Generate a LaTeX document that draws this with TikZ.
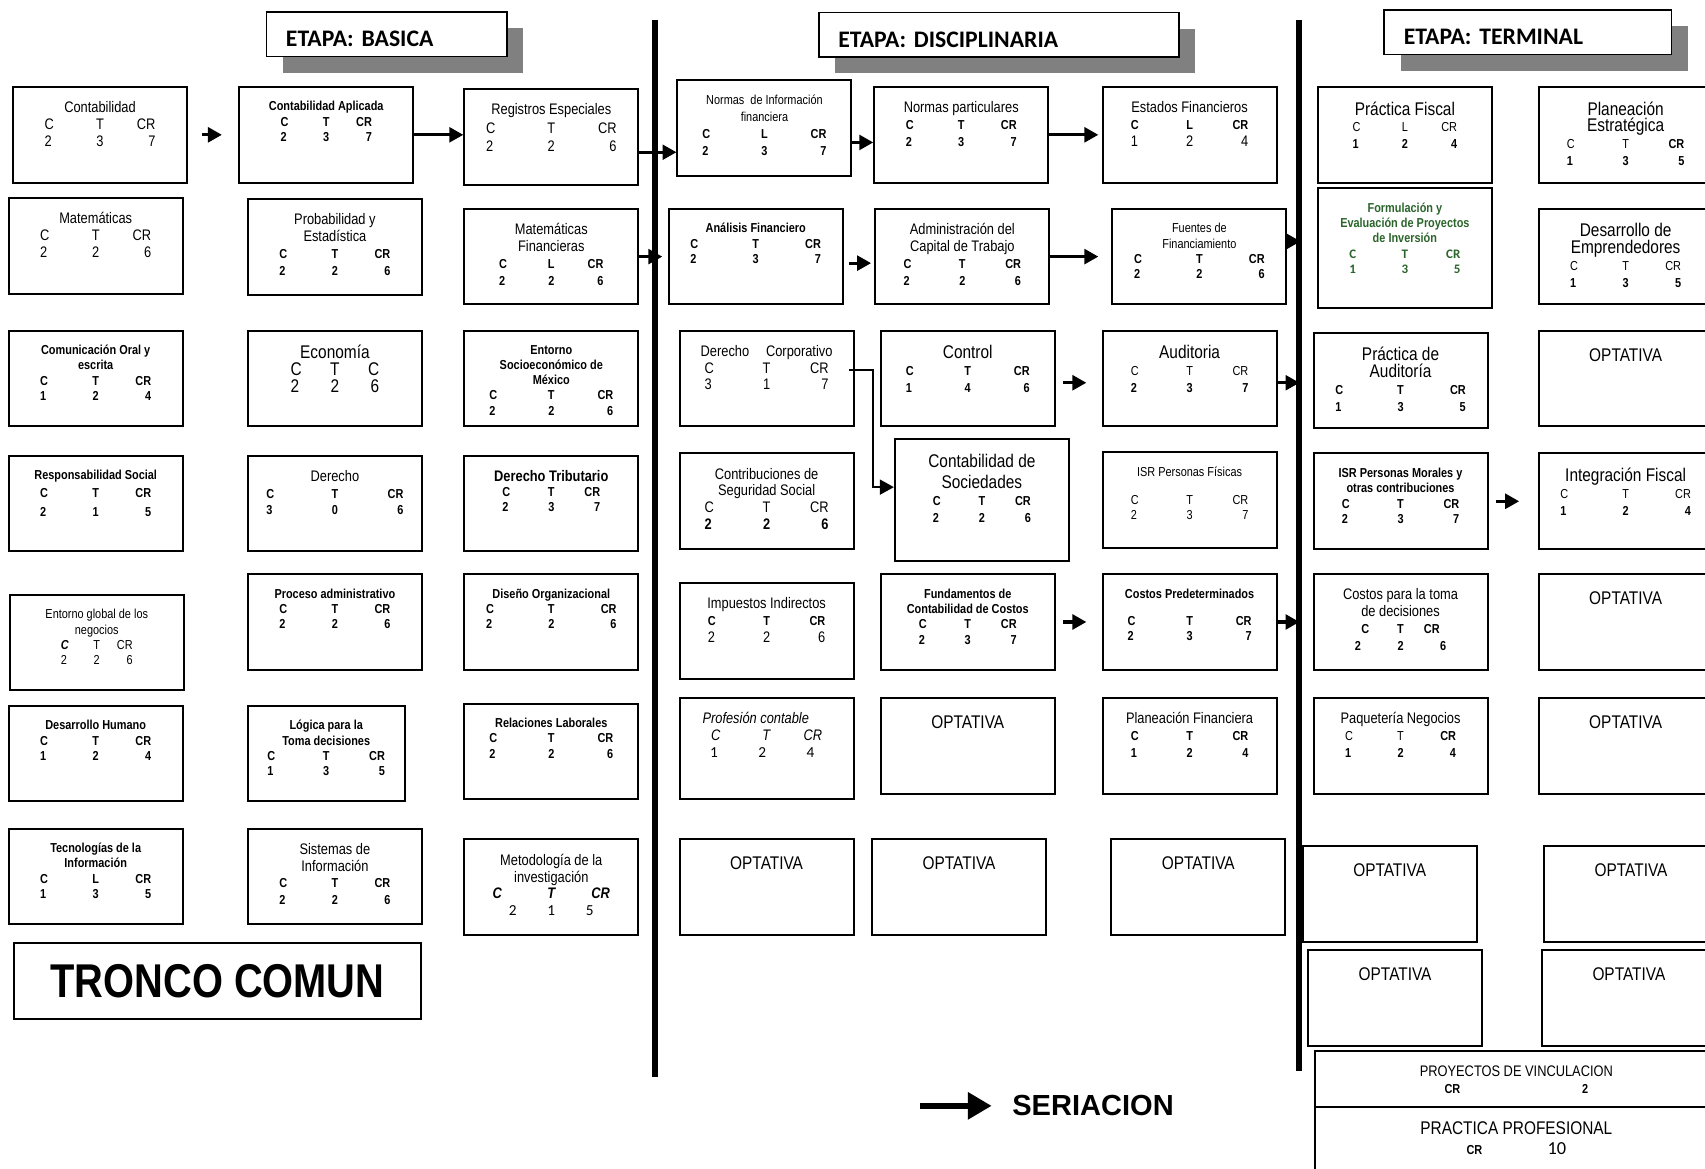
\documentclass[tikz,border=0pt]{standalone}
\usepackage{fontspec}
\setmainfont{Liberation Sans}
\newfontfamily\narrowsf[FakeStretch=0.84]{Liberation Sans}
\newfontfamily\calibri{Carlito}
\usetikzlibrary{arrows.meta, positioning, calc, shadows}
\definecolor{shadowgray}{HTML}{808080}
\definecolor{formgreen}{HTML}{2B652B}
\frenchspacing
\newcommand\szS{\fontsize{8.5}{10}\selectfont}
\newcommand\szM{\fontsize{10}{11}\selectfont}
\newcommand\szL{\fontsize{12}{13.5}\selectfont}
% one row of a course box: C / T / CR
\newcommand\crow[4][0.85cm]{\makebox[#1][l]{#2}\makebox[#1][c]{#3}\makebox[#1][r]{#4}}

\begin{document}
\begin{tikzpicture}[x=0.025cm, y=-0.025cm,
  box/.style={draw, line width=1.3pt, minimum width=4cm, minimum height=2.2cm, inner sep=0pt},
  lbl/.style={anchor=north, yshift=-9pt, align=center, inner sep=1pt, font=\narrowsf\szM},
  course/.style={box, label={[lbl]north:#1}},
  scourse/.style={box, label={[lbl, font=\narrowsf\szS]north:#1}},
  bcourse/.style={box, label={[lbl, font=\narrowsf\bfseries\szS]north:#1}},
  gcourse/.style={box, label={[lbl, font=\narrowsf\bfseries\szS, text=formgreen]north:#1}},
  optbox/.style={box, label={[lbl, yshift=-2pt, font=\narrowsf\szL]north:OPTATIVA}},
  stage/.style={draw, line width=1pt, fill=white, minimum height=1.025cm, inner xsep=0.45cm,
                text height=16pt, text depth=0pt,
                align=left, font=\calibri\bfseries\fontsize{15.5}{17}\selectfont,
                drop shadow={shadow xshift=0.375cm, shadow yshift=-0.375cm, fill=shadowgray, opacity=1}},
  arr/.style={-{Triangle[length=0.32cm, width=0.34cm]}, line width=2pt},
  elbow/.style={-{Triangle[length=0.32cm, width=0.34cm]}, line width=1.3pt},
  bigarr/.style={-{Triangle[length=0.55cm, width=0.6cm]}, line width=3.9pt},
  bar/.style={line width=3.9pt},
]
\useasboundingbox (0,0) rectangle (1568,1075);
\fill[white] (0,0) rectangle (1568,1075);
\clip (0,0) rectangle (1568,1075);

% === stage headers ===
\node[stage, text width=4.625cm] (basica) at (355.5,31.5) {ETAPA: BASICA};
\node[stage, text width=7.375cm] (discip) at (918.5,32) {ETAPA: DISCIPLINARIA};
\node[stage, text width=5.7cm] (termin) at (1405,29.5) {ETAPA: TERMINAL};

% === stage dividers ===
\draw[bar] (602,18) -- (602,990);
\draw[bar] (1195,18) -- (1195,985);

% === tronco comun, column 1 ===
\node[course={Contabilidad\\\crow{C}{T}{CR}\\\crow{2}{3}{7}}] (conta) at (92,124) {};
\node[course={Matemáticas\\\crow{C}{T}{CR}\\\crow{2}{2}{6}}] (mate) at (88,226) {};
\node[bcourse={Comunicación Oral y\\escrita\\\crow{C}{T}{CR}\\\crow{1}{2}{4}}] (comu) at (88,348) {};
\node[bcourse={Responsabilidad Social\\[2pt]\crow{C}{T}{CR}\\[2pt]\crow{2}{1}{5}}] (resp) at (88,463) {};
\node[scourse={Entorno global de los\\negocios\\\crow[0.55cm]{\textbf{\textit{C}}}{T}{CR}\\\crow[0.55cm]{2}{2}{6}}] (entg) at (89,591) {};
\node[bcourse={Desarrollo Humano\\\crow{C}{T}{CR}\\\crow{1}{2}{4}}] (desh) at (88,693) {};
\node[bcourse={Tecnologías de la\\Información\\\crow{C}{L}{CR}\\\crow{1}{3}{5}}] (tecn) at (88,806) {};
\node[box, minimum width=9.375cm, minimum height=1.75cm,
      font=\narrowsf\bfseries\fontsize{31}{34}\selectfont] (tronco) at (200,902) {TRONCO COMUN};

% === column 2 ===
\node[bcourse={Contabilidad Aplicada\\\crow[0.7cm]{C}{T}{CR}\\\crow[0.7cm]{2}{3}{7}}] (conap) at (300,124) {};
\node[course={Probabilidad y\\Estadística\\{\bfseries\szS\crow{C}{T}{CR}}\\{\bfseries\szS\crow{2}{2}{6}}}] (prob) at (308,227) {};
\node[course={{\szL Economía}\\{\szL\crow[0.68cm]{C}{T}{C}}\\{\szL\crow[0.68cm]{2}{2}{6}}}] (econ) at (308,348) {};
\node[course={Derecho\\{\bfseries\szS\crow[1.05cm]{C}{T}{CR}}\\{\bfseries\szS\crow[1.05cm]{3}{0}{6}}}] (dere) at (308,463) {};
\node[bcourse={Proceso administrativo\\\crow{C}{T}{CR}\\\crow{2}{2}{6}}] (proc) at (308,572) {};
\node[bcourse={Lógica para la\\Toma decisiones\\\crow[0.9cm]{C}{T}{CR}\\\crow[0.9cm]{1}{3}{5}}, minimum width=3.6cm] (logi) at (300,693) {};
\node[course={Sistemas de\\Información\\{\bfseries\szS\crow{C}{T}{CR}}\\{\bfseries\szS\crow{2}{2}{6}}}] (sist) at (308,806) {};

% === column 3 ===
\node[course={Registros Especiales\\[1pt]\crow[1cm]{C}{T}{CR}\\[1pt]\crow[1cm]{2}{2}{6}}] (regi) at (507,126) {};
\node[course={Matemáticas\\Financieras\\{\bfseries\szS\crow[0.8cm]{C}{L}{CR}}\\{\bfseries\szS\crow[0.8cm]{2}{2}{6}}}] (matf) at (507,236) {};
\node[bcourse={Entorno\\Socioeconómico de\\México\\\crow[0.95cm]{C}{T}{CR}\\\crow[0.95cm]{2}{2}{6}}] (ents) at (507,348) {};
\node[bcourse={{\szM Derecho Tributario}\\\crow[0.75cm]{C}{T}{CR}\\\crow[0.75cm]{2}{3}{7}}] (detr) at (507,463) {};
\node[bcourse={Diseño Organizacional\\\crow[1cm]{C}{T}{CR}\\\crow[1cm]{2}{2}{6}}] (diso) at (507,572) {};
\node[bcourse={Relaciones Laborales\\\crow[0.95cm]{C}{T}{CR}\\\crow[0.95cm]{2}{2}{6}}] (rela) at (507,691) {};
\node[course={Metodología de la\\investigación\\{\bfseries\itshape\crow[0.9cm]{C}{T}{CR}}\\{\calibri\crow[0.65cm]{2}{1}{5}}}] (meto) at (507,816) {};

% === disciplinaria, column 4 ===
\node[course={{\szS Normas\ \ de Información}\\{\szS financiera}\\{\bfseries\szS\crow[0.95cm]{C}{L}{CR}}\\{\bfseries\szS\crow[0.95cm]{2}{3}{7}}}] (nif) at (703,118) {};
\node[bcourse={Análisis Financiero\\\crow[1cm]{C}{T}{CR}\\\crow[1cm]{2}{3}{7}}] (anfi) at (695,236) {};
\node[course={Derecho\hspace{1.1em}Corporativo\\\crow[0.95cm]{C}{T}{CR}\\\crow[0.95cm]{3}{1}{7}}] (dcor) at (705,348) {};
\node[course={Contribuciones de\\Seguridad Social\\\crow[0.95cm]{C}{T}{CR}\\{\bfseries\crow[0.95cm]{2}{2}{6}}}] (cssl) at (705,461) {};
\node[course={Impuestos Indirectos\\{\bfseries\szS\crow[0.9cm]{C}{T}{CR}}\\\crow[0.9cm]{2}{2}{6}}] (impi) at (705,580) {};
\node[course={\textit{Profesión contable}\hspace*{0.5cm}\\\crow[0.85cm]{\textit{C}}{\textit{T}}{\textit{CR}}\hspace*{0.2cm}\\{\calibri\crow[0.8cm]{1}{2}{4}}\hspace*{0.2cm}}, minimum height=2.325cm] (prof) at (705,688) {};
\node[optbox] (opt4a) at (705,816) {};

% === column 5 ===
\node[course={Normas particulares\\{\bfseries\szS\crow[0.85cm]{C}{T}{CR}}\\{\bfseries\szS\crow[0.85cm]{2}{3}{7}}}] (npar) at (884,124) {};
\node[course={Administración del\\Capital de Trabajo\\{\bfseries\szS\crow[0.9cm]{C}{T}{CR}}\\{\bfseries\szS\crow[0.9cm]{2}{2}{6}}}] (adct) at (885,236) {};
\node[course={{\szL Control}\\{\bfseries\szS\crow[0.95cm]{C}{T}{CR}}\\{\bfseries\szS\crow[0.95cm]{1}{4}{6}}}] (ctrl) at (890,348) {};
\node[course={{\szL Contabilidad de}\\[3pt]{\szL Sociedades}\\{\bfseries\szS\crow[0.75cm]{C}{T}{CR}}\\{\bfseries\szS\crow[0.75cm]{2}{2}{6}}}, minimum height=2.8cm] (csoc) at (903,460) {};
\node[bcourse={Fundamentos de\\Contabilidad de Costos\\\crow[0.75cm]{C}{T}{CR}\\\crow[0.75cm]{2}{3}{7}}] (fcc) at (890,572) {};
\node[optbox] (opt5a) at (890,686) {};
\node[optbox] (opt5b) at (882,816) {};

% === column 6 ===
\node[course={Estados Financieros\\{\bfseries\szS\crow[0.9cm]{C}{L}{CR}}\\\crow[0.9cm]{1}{2}{4}}] (esfi) at (1094,124) {};
\node[scourse={Fuentes de\\Financiamiento\\{\bfseries\crow[1cm]{C}{T}{CR}}\\{\bfseries\crow[1cm]{2}{2}{6}}}] (fuen) at (1103,236) {};
\node[course={{\szL Auditoria}\\{\szS\crow[0.9cm]{C}{T}{CR}}\\{\bfseries\szS\crow[0.9cm]{2}{3}{7}}}] (audi) at (1094,348) {};
\node[scourse={ISR Personas Físicas\\[8pt]\crow[0.9cm]{C}{T}{CR}\\\crow[0.9cm]{2}{3}{7}}] (isrf) at (1094,460) {};
\node[bcourse={Costos Predeterminados\\[8pt]\crow[0.95cm]{C}{T}{CR}\\\crow[0.95cm]{2}{3}{7}}] (cpre) at (1094,572) {};
\node[course={Planeación Financiera\\{\bfseries\szS\crow[0.9cm]{C}{T}{CR}}\\{\bfseries\szS\crow[0.9cm]{1}{2}{4}}}] (plfi) at (1094,686) {};
\node[optbox] (opt6a) at (1102,816) {};

% === terminal, column 7 ===
\node[course={{\szL Práctica Fiscal}\\{\szS\crow[0.8cm]{C}{L}{CR}}\\{\bfseries\szS\crow[0.8cm]{1}{2}{4}}}] (prfi) at (1292,124) {};
\node[gcourse={Formulación y\\Evaluación de Proyectos\\de Inversión\\{\calibri\crow[0.85cm]{C}{T}{CR}}\\{\calibri\crow[0.85cm]{1}{3}{5}}}, minimum height=2.75cm] (form) at (1292,228) {};
\node[course={{\szL Práctica de}\\{\szL Auditoría}\\{\bfseries\szS\crow[1cm]{C}{T}{CR}}\\{\bfseries\szS\crow[1cm]{1}{3}{5}}}] (prau) at (1288,350) {};
\node[bcourse={ISR Personas Morales y\\otras contribuciones\\\crow[0.9cm]{C}{T}{CR}\\\crow[0.9cm]{2}{3}{7}}] (isrm) at (1288,461) {};
\node[course={Costos para la toma\\de decisiones\\{\bfseries\szS\crow[0.6cm]{C}{T}{CR}}\\{\bfseries\szS\crow[0.7cm]{2}{2}{6}}}] (ctdm) at (1288,572) {};
\node[course={Paquetería Negocios\\{\szS\crow[0.85cm]{C}{T}{\textbf{CR}}}\\{\bfseries\szS\crow[0.85cm]{1}{2}{4}}}] (paqn) at (1288,686) {};
\node[optbox] (opt7a) at (1278,822) {};
\node[optbox] (opt7b) at (1283,918) {};
\node[course={PROYECTOS DE VINCULACION\\{\bfseries\szS\makebox[3.3cm]{CR\hfill 2}}},
      minimum width=9.275cm, minimum height=1.275cm] (pvin) at (1394.5,992.5) {};
\node[course={{\szL PRACTICA PROFESIONAL}\\[2pt]{\bfseries\szS CR}\hspace{1.5cm}{\calibri\szL 10}},
      minimum width=9.275cm, minimum height=1.8cm] (ppro) at (1394.5,1054) {};

% === column 8 ===
\node[course={{\szL Planeación}\\{\szL Estratégica}\\{\szS\crow[0.9cm]{C}{T}{\textbf{CR}}}\\{\bfseries\szS\crow[0.9cm]{1}{3}{5}}}] (ples) at (1495,124) {};
\node[course={{\szL Desarrollo de}\\{\szL Emprendedores}\\{\szS\crow{C}{T}{CR}}\\{\bfseries\szS\crow{1}{3}{5}}}] (dese) at (1495,236) {};
\node[optbox] (opt8a) at (1495,348) {};
\node[course={{\szL Integración Fiscal}\\{\szS\crow[1cm]{C}{T}{CR}}\\{\bfseries\szS\crow[1cm]{1}{2}{4}}}] (intf) at (1495,461) {};
\node[optbox] (opt8b) at (1495,572) {};
\node[optbox] (opt8c) at (1495,686) {};
\node[optbox] (opt8d) at (1500,822) {};
\node[optbox] (opt8e) at (1498,918) {};

% === seriacion arrows ===
\draw[arr, shorten <=0.325cm, shorten >=0.375cm] (conta.east) -- (conta.east -| conap.west);
\draw[arr] (conap.east) -- (conap.east -| regi.west);
\draw[arr] ([yshift=-0.35cm]regi.east) -- ([yshift=-0.35cm]regi.east -| nif.west);
\draw[arr, shorten >=0.125cm] (matf.east) -- (matf.east -| anfi.west);
\draw[arr] ([yshift=-0.325cm]nif.east) -- ([yshift=-0.325cm]nif.east -| npar.west);
\draw[arr, shorten >=0.075cm] (npar.east) -- (npar.east -| esfi.west);
\draw[arr, shorten <=0.125cm, shorten >=0.075cm] ([yshift=-0.15cm]anfi.east) -- ([yshift=-0.15cm]anfi.east -| adct.west);
\draw[arr, shorten >=0.3cm] (adct.east) -- (adct.east -| fuen.west);
\draw[arr, shorten >=0.375cm] ([yshift=0.35cm]fuen.east) -- ([yshift=0.35cm]fuen.east -| form.west);
\draw[elbow] ([yshift=0.2cm, xshift=-0.125cm]dcor.east) -- ++(22,0) |- ([yshift=0.3cm]csoc.west);
\draw[arr, shorten <=0.175cm, shorten >=0.35cm] ([yshift=-0.1cm]ctrl.east) -- ([yshift=-0.1cm]ctrl.east -| audi.west);
\draw[arr, shorten >=0.3cm] ([yshift=-0.1cm]audi.east) -- ([yshift=-0.1cm]audi.east -| prau.west);
\draw[arr, shorten <=0.175cm, shorten >=0.35cm] (fcc.east) -- (fcc.east -| cpre.west);
\draw[arr, shorten >=0.3cm] (cpre.east) -- (cpre.east -| ctdm.west);
\draw[arr, shorten <=0.175cm, shorten >=0.425cm] (isrm.east) -- (isrm.east -| intf.west);

% === legend ===
\node[anchor=west, font=\bfseries\fontsize{19}{22}\selectfont] (seri) at (926,1017) {SERIACION};
\coordinate (seristart) at (846,1017);
\draw[bigarr, shorten >=0.35cm] (seristart) -- (seri.west);

\end{tikzpicture}
\end{document}
